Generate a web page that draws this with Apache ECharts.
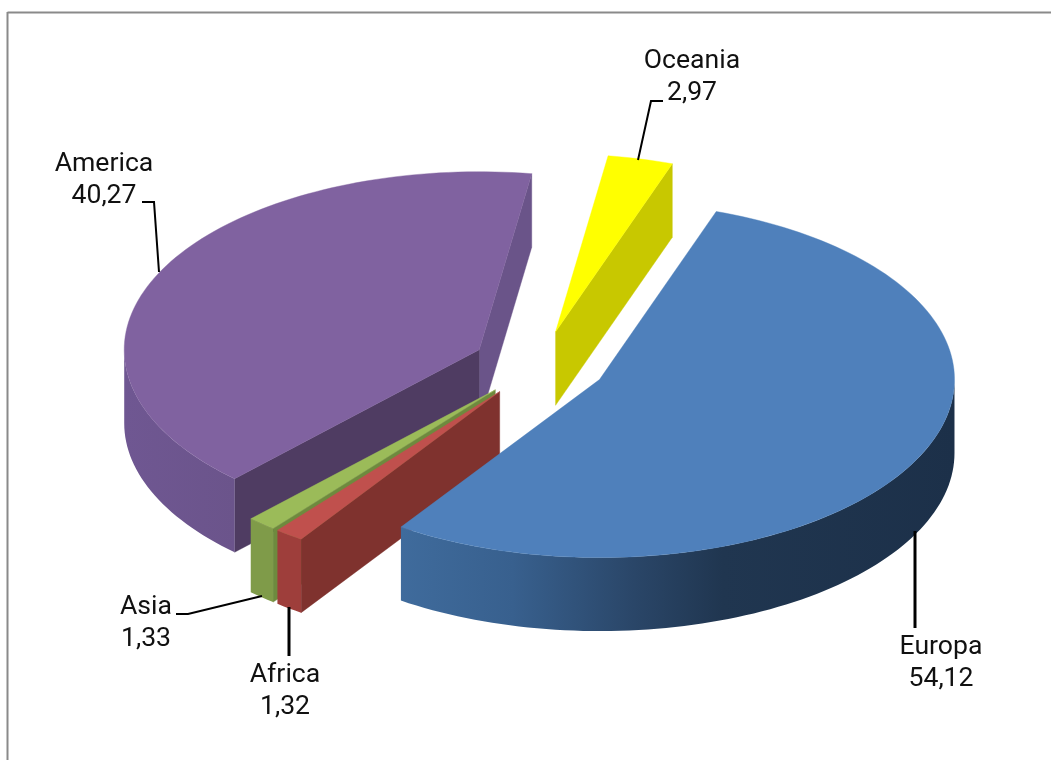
<!DOCTYPE html>
<html>
<head>
<meta charset="utf-8">
<style>html,body{margin:0;padding:0;background:#fff}#c{width:1051px;height:760px}</style>
<script src="https://cdn.jsdelivr.net/npm/echarts@6/dist/echarts.min.js"></script>
</head>
<body>
<div id="c"></div>
<script>
// ---- data ----
const categories = ['Europa', 'Africa', 'Asia', 'America', 'Oceania'];
const values = [54.12, 1.32, 1.33, 40.27, 2.97];

// ---- pie projection ----
const pie = { cx: 539.5, cy: 364.5, rx: 355, ry: 178, depth: 73.5, explode: 0.189, startDeg: 19.2 };
const paintRank = { America: 1, Oceania: 2, Asia: 3, Africa: 4, Europa: 5 };

// ---- styles ----
const styles = {
  Europa: { top: '#4f80bb', cut: '#2c4a70',
    rim: [[0, '#3f6b9c'], [0.2, '#38608e'], [0.42, '#2a4668'], [0.58, '#203650'], [1, '#1c3049']], rimX: [402, 955] },
  Africa: { top: '#c0504d', cut: '#7f322e', rim: [[0, '#9e3e3b'], [1, '#9e3e3b']], rimX: [278, 303] },
  Asia: { top: '#9bbb59', cut: '#6e8a3e', rim: [[0, '#7f9b49'], [1, '#7f9b49']], rimX: [252, 275] },
  America: { top: '#8062a0', cut: '#4f3c62', cutEnd: '#6a5489',
    rim: [[0, '#6f5792'], [1, '#6b548b']], rimX: [124, 235] },
  Oceania: { top: '#ffff00', cut: '#c8c800', rim: [[0, '#c8c800'], [1, '#c8c800']], rimX: [555, 671] }
};

// ---- labels and leaders ----
const labelFont = '26.6px Roboto, sans-serif';
const labels = {
  Europa: { x: 941, y: 661, leader: [[915, 531], [915, 628]], w: 3 },
  Africa: { x: 285, y: 689, leader: [[289, 607], [289, 656]], w: 3 },
  Asia: { x: 146, y: 621, leader: [[176, 614], [188, 614], [262, 596]], w: 2 },
  America: { x: 104, y: 178, leader: [[142, 202], [154, 202], [159, 272]], w: 2 },
  Oceania: { x: 692, y: 75, leader: [[663, 101], [651, 101], [638, 160]], w: 2 }
};
const labelShiftY = 2.5;

const total = values.reduce((a, b) => a + b, 0);
const wedges = [];
let acc = pie.startDeg;
values.forEach((v, i) => {
  const sweep = v / total * 360;
  wedges.push({ name: categories[i], value: v, from: acc, to: acc + sweep });
  acc += sweep;
});
const rad = d => d * Math.PI / 180;
function rimPoint(c, deg, dz) {
  return [c[0] + Math.sin(rad(deg)) * pie.rx, c[1] - Math.cos(rad(deg)) * pie.ry + (dz || 0)];
}
function arc(c, a, b, dz) {
  const pts = [], n = Math.max(2, Math.ceil(Math.abs(b - a) / 1.5));
  for (let k = 0; k <= n; k++) pts.push(rimPoint(c, a + (b - a) * k / n, dz));
  return pts;
}
function poly(points, fill, z2) {
  return { type: 'polygon', shape: { points }, style: { fill, stroke: fill, lineWidth: 0.4 }, z2, silent: true };
}

function renderItem(params) {
  const w = wedges[params.dataIndex];
  const st = styles[w.name];
  const mid = rad((w.from + w.to) / 2);
  const c = [pie.cx + Math.sin(mid) * pie.rx * pie.explode, pie.cy - Math.cos(mid) * pie.ry * pie.explode];
  const z = paintRank[w.name] * 10;
  const children = [];
  const fSin = Math.sin(rad(w.from)), tSin = Math.sin(rad(w.to));
  const bottom = p => [p[0], p[1] + pie.depth];

  // cut faces facing the viewer
  if (tSin > 0) {
    const e = rimPoint(c, w.to);
    children.push(poly([c, e, bottom(e), bottom(c)], st.cutEnd || st.cut, z));
  }
  if (fSin < 0) {
    const s = rimPoint(c, w.from);
    children.push(poly([c, s, bottom(s), bottom(c)], st.cut, z + 1));
  }
  // outer rim: the front half of the ellipse only
  const a = Math.max(w.from, 90), b = Math.min(w.to, 270);
  if (b > a) {
    const pts = arc(c, a, b).concat(arc(c, b, a, pie.depth));
    const fill = new echarts.graphic.LinearGradient(st.rimX[0], 0, st.rimX[1], 0,
      st.rim.map(s => ({ offset: s[0], color: s[1] })), true);
    children.push({ type: 'polygon', shape: { points: pts }, style: { fill }, z2: z + 2, silent: true });
  }
  // top face
  children.push(poly([c].concat(arc(c, w.from, w.to)), st.top, z + 3));

  // label with leader line
  const l = labels[w.name];
  children.push({ type: 'polyline', shape: { points: l.leader },
    style: { stroke: '#000', lineWidth: l.w, fill: null }, z2: 100, silent: true });
  children.push({ type: 'text', z2: 101, silent: true, style: {
    x: l.x, y: l.y + labelShiftY, text: w.name + '\n' + w.value.toFixed(2).replace('.', ','),
    font: labelFont, lineHeight: 32, fill: '#111', align: 'center', verticalAlign: 'middle' } });
  return { type: 'group', children };
}

const chart = echarts.init(document.getElementById('c'), null, { renderer: 'canvas' });
chart.setOption({
  animation: false,
  backgroundColor: '#ffffff',
  graphic: [
    { type: 'line', shape: { x1: 7.5, y1: 12.5, x2: 1051, y2: 12.5 }, style: { stroke: '#8a8a8a', lineWidth: 2 }, z: 1 },
    { type: 'line', shape: { x1: 7.5, y1: 12, x2: 7.5, y2: 760 }, style: { stroke: '#8a8a8a', lineWidth: 2 }, z: 1 }
  ],
  series: [{
    type: 'custom',
    coordinateSystem: 'none',
    renderItem,
    data: values
  }]
});
</script>
</body>
</html>
